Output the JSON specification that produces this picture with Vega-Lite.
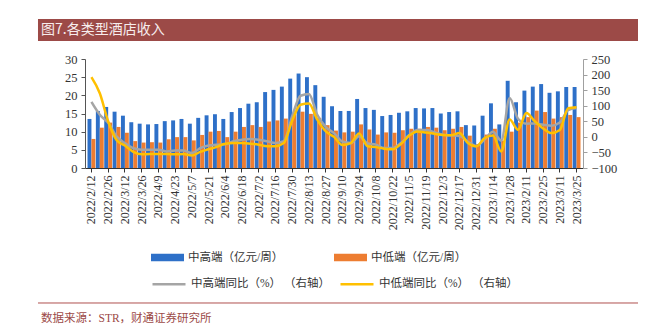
{
  "$schema": "https://vega.github.io/schema/vega-lite/v6.json",
  "padding": {"left": 37, "top": 19, "right": 0, "bottom": 0},
  "background": "white",
  "config": {
    "view": {"stroke": null},
    "font": "Liberation Serif, Noto Sans CJK SC",
    "concat": {"spacing": 12},
    "axis": {"grid": false, "title": null}
  },
  "datasets": {
    "weekly": [
      {"week": "2022/2/12", "hi": 13.5, "lo": 8.0, "hiYoY": 112, "loYoY": 192},
      {"week": "2022/2/19", "hi": 15.7, "lo": 11.1, "hiYoY": 71, "loYoY": 140},
      {"week": "2022/2/26", "hi": 16.8, "lo": 12.5, "hiYoY": 45, "loYoY": 50},
      {"week": "2022/3/5", "hi": 15.5, "lo": 11.3, "hiYoY": 2, "loYoY": -10},
      {"week": "2022/3/12", "hi": 14.4, "lo": 9.7, "hiYoY": -20, "loYoY": -28},
      {"week": "2022/3/19", "hi": 12.6, "lo": 7.4, "hiYoY": -36, "loYoY": -48},
      {"week": "2022/3/26", "hi": 12.2, "lo": 7.0, "hiYoY": -41, "loYoY": -56},
      {"week": "2022/4/2", "hi": 12.0, "lo": 7.1, "hiYoY": -41, "loYoY": -55},
      {"week": "2022/4/9", "hi": 12.1, "lo": 7.0, "hiYoY": -41, "loYoY": -55},
      {"week": "2022/4/16", "hi": 12.9, "lo": 7.9, "hiYoY": -47, "loYoY": -55},
      {"week": "2022/4/23", "hi": 13.1, "lo": 8.5, "hiYoY": -44, "loYoY": -56},
      {"week": "2022/4/30", "hi": 13.5, "lo": 8.5, "hiYoY": -44, "loYoY": -55},
      {"week": "2022/5/7", "hi": 12.2, "lo": 7.6, "hiYoY": -52, "loYoY": -60},
      {"week": "2022/5/14", "hi": 13.8, "lo": 9.1, "hiYoY": -36, "loYoY": -48},
      {"week": "2022/5/21", "hi": 14.5, "lo": 10.0, "hiYoY": -28, "loYoY": -40},
      {"week": "2022/5/28", "hi": 14.8, "lo": 10.2, "hiYoY": -25, "loYoY": -32},
      {"week": "2022/6/4", "hi": 13.5, "lo": 8.5, "hiYoY": -24, "loYoY": -22},
      {"week": "2022/6/11", "hi": 15.4, "lo": 10.0, "hiYoY": -14, "loYoY": -20},
      {"week": "2022/6/18", "hi": 16.5, "lo": 11.3, "hiYoY": -9, "loYoY": -20},
      {"week": "2022/6/25", "hi": 17.7, "lo": 11.8, "hiYoY": -7, "loYoY": -22},
      {"week": "2022/7/2", "hi": 18.1, "lo": 11.3, "hiYoY": -9, "loYoY": -25},
      {"week": "2022/7/9", "hi": 20.9, "lo": 12.8, "hiYoY": -14, "loYoY": -30},
      {"week": "2022/7/16", "hi": 21.5, "lo": 13.1, "hiYoY": -20, "loYoY": -30},
      {"week": "2022/7/23", "hi": 22.4, "lo": 13.6, "hiYoY": -14, "loYoY": -20},
      {"week": "2022/7/30", "hi": 24.6, "lo": 14.6, "hiYoY": 66, "loYoY": 52},
      {"week": "2022/8/6", "hi": 26.0, "lo": 15.5, "hiYoY": 132, "loYoY": 103},
      {"week": "2022/8/13", "hi": 25.0, "lo": 14.9, "hiYoY": 138, "loYoY": 107},
      {"week": "2022/8/20", "hi": 22.8, "lo": 13.8, "hiYoY": 71, "loYoY": 55},
      {"week": "2022/8/27", "hi": 19.6, "lo": 11.8, "hiYoY": 32, "loYoY": 18},
      {"week": "2022/9/3", "hi": 17.0, "lo": 10.3, "hiYoY": 12, "loYoY": 0},
      {"week": "2022/9/10", "hi": 15.7, "lo": 9.8, "hiYoY": -15, "loYoY": -26},
      {"week": "2022/9/17", "hi": 15.7, "lo": 10.0, "hiYoY": -20, "loYoY": -20},
      {"week": "2022/9/24", "hi": 19.0, "lo": 12.0, "hiYoY": 2, "loYoY": 11},
      {"week": "2022/10/1", "hi": 16.5, "lo": 10.6, "hiYoY": -21, "loYoY": -30},
      {"week": "2022/10/8", "hi": 16.0, "lo": 9.2, "hiYoY": -25, "loYoY": -33},
      {"week": "2022/10/15", "hi": 14.3, "lo": 9.8, "hiYoY": -36, "loYoY": -38},
      {"week": "2022/10/22", "hi": 14.6, "lo": 9.7, "hiYoY": -36, "loYoY": -40},
      {"week": "2022/10/29", "hi": 15.2, "lo": 10.4, "hiYoY": -20, "loYoY": -23},
      {"week": "2022/11/5", "hi": 15.6, "lo": 10.8, "hiYoY": 6, "loYoY": 4},
      {"week": "2022/11/12", "hi": 16.5, "lo": 10.8, "hiYoY": 22, "loYoY": 17},
      {"week": "2022/11/19", "hi": 16.4, "lo": 11.3, "hiYoY": 22, "loYoY": 14},
      {"week": "2022/11/26", "hi": 16.5, "lo": 11.1, "hiYoY": 15, "loYoY": 10},
      {"week": "2022/12/3", "hi": 15.0, "lo": 10.4, "hiYoY": 7, "loYoY": 6},
      {"week": "2022/12/10", "hi": 15.4, "lo": 10.8, "hiYoY": 5, "loYoY": 5},
      {"week": "2022/12/17", "hi": 15.6, "lo": 11.3, "hiYoY": 3, "loYoY": 12},
      {"week": "2022/12/24", "hi": 11.8, "lo": 8.9, "hiYoY": -15, "loYoY": -20},
      {"week": "2022/12/31", "hi": 11.7, "lo": 6.6, "hiYoY": -29, "loYoY": -31},
      {"week": "2023/1/7", "hi": 14.4, "lo": 9.2, "hiYoY": -9, "loYoY": -4},
      {"week": "2023/1/14", "hi": 17.8, "lo": 10.8, "hiYoY": 16, "loYoY": 4},
      {"week": "2023/1/21", "hi": 12.0, "lo": 7.5, "hiYoY": -12, "loYoY": -47},
      {"week": "2023/1/28", "hi": 24.0, "lo": 10.0, "hiYoY": 125, "loYoY": 56},
      {"week": "2023/2/4", "hi": 18.1, "lo": 12.5, "hiYoY": 58, "loYoY": 23},
      {"week": "2023/2/11", "hi": 21.3, "lo": 14.0, "hiYoY": 42, "loYoY": 77},
      {"week": "2023/2/18", "hi": 22.4, "lo": 15.8, "hiYoY": 43, "loYoY": 50},
      {"week": "2023/2/25", "hi": 23.1, "lo": 15.4, "hiYoY": 39, "loYoY": 27},
      {"week": "2023/3/4", "hi": 20.7, "lo": 13.6, "hiYoY": 36, "loYoY": 12},
      {"week": "2023/3/11", "hi": 21.1, "lo": 14.0, "hiYoY": 46, "loYoY": 22},
      {"week": "2023/3/18", "hi": 22.3, "lo": 14.6, "hiYoY": 86, "loYoY": 92},
      {"week": "2023/3/25", "hi": 22.3, "lo": 14.0, "hiYoY": 93, "loYoY": 95}
    ]
  },
  "vconcat": [
    {
      "width": 553,
      "height": 22,
      "data": {"values": [{"label": "图7.各类型酒店收入", "x0": -0.085, "x1": 1, "y0": 0, "y1": 1, "py": 0.5}]},
      "layer": [
        {
          "mark": {"type": "rect", "color": "#9C4A47"},
          "encoding": {
            "x": {"field": "x0", "type": "quantitative", "scale": {"domain": [0, 1]}, "axis": null},
            "x2": {"field": "x1"},
            "y": {"field": "y0", "type": "quantitative", "scale": {"domain": [0, 1]}, "axis": null},
            "y2": {"field": "y1"}
          }
        },
        {
          "mark": {"type": "text", "align": "left", "baseline": "middle", "fontSize": 14, "color": "#F7EDED", "dx": 3, "font": "Noto Sans CJK SC"},
          "encoding": {
            "x": {"field": "x0", "type": "quantitative"},
            "y": {"field": "py", "type": "quantitative"},
            "text": {"field": "label"}
          }
        }
      ]
    },
    {
      "width": 498,
      "height": 109,
      "data": {"name": "weekly"},
      "layer": [
        {
          "transform": [{"fold": ["hi", "lo"], "as": ["series", "value"]}],
          "mark": {"type": "bar"},
          "encoding": {
            "x": {
              "field": "week", "type": "nominal", "sort": null,
              "scale": {"paddingInner": 0.06, "paddingOuter": 0.3},
              "axis": {
                "values": ["2022/2/12","2022/2/26","2022/3/12","2022/3/26","2022/4/9","2022/4/23","2022/5/7","2022/5/21","2022/6/4","2022/6/18","2022/7/2","2022/7/16","2022/7/30","2022/8/13","2022/8/27","2022/9/10","2022/9/24","2022/10/8","2022/10/22","2022/11/5","2022/11/19","2022/12/3","2022/12/17","2022/12/31","2023/1/14","2023/1/28","2023/2/11","2023/2/25","2023/3/11","2023/3/25"],
                "labelAngle": -90, "labelFontSize": 12, "labelColor": "#333333",
                "domainColor": "#333333", "tickColor": "#333333", "tickSize": 4, "labelPadding": 3
              }
            },
            "xOffset": {"field": "series", "sort": ["hi", "lo"], "scale": {"paddingInner": 0}},
            "y": {
              "field": "value", "type": "quantitative",
              "scale": {"domain": [0, 30]},
              "axis": {
                "orient": "left", "values": [0, 5, 10, 15, 20, 25, 30],
                "labelFontSize": 12.5, "labelColor": "#333333",
                "domainColor": "#555555", "tickColor": "#555555", "tickSize": 4,
                "labelPadding": 4, "minExtent": 47
              }
            },
            "color": {
              "field": "series", "type": "nominal",
              "scale": {"domain": ["hi", "lo"], "range": ["#2E70C8", "#ED7D31"]},
              "legend": {
                "orient": "none", "legendX": 66, "legendY": 222,
                "direction": "horizontal", "columns": 2, "title": null,
                "symbolType": "M-1,-0.22H1V0.22H-1Z", "symbolSize": 1089, "symbolStrokeWidth": 0,
                "labelFontSize": 11.5, "labelColor": "#333333", "labelOffset": 4,
                "columnPadding": 50,
                "labelExpr": "datum.label == 'hi' ? '中高端（亿元/周）' : '中低端（亿元/周）'"
              }
            }
          }
        },
        {
          "transform": [{"fold": ["hiYoY", "loYoY"], "as": ["series", "value"]}],
          "mark": {"type": "line", "interpolate": "monotone", "strokeWidth": 2.5},
          "encoding": {
            "x": {"field": "week", "type": "nominal", "sort": null},
            "y": {
              "field": "value", "type": "quantitative",
              "scale": {"domain": [-100, 250]},
              "axis": {
                "orient": "right", "values": [-100, -50, 0, 50, 100, 150, 200, 250],
                "labelFontSize": 12.5, "labelColor": "#333333",
                "domainColor": "#A0A0A0", "tickColor": "#A0A0A0", "tickSize": 4,
                "labelPadding": 4
              }
            },
            "stroke": {
              "field": "series", "type": "nominal",
              "scale": {"domain": ["hiYoY", "loYoY"], "range": ["#A5A5A5", "#FFC000"]},
              "legend": {
                "orient": "none", "legendX": 66, "legendY": 247,
                "direction": "horizontal", "columns": 2, "title": null,
                "symbolType": "stroke", "symbolSize": 1089, "symbolStrokeWidth": 2.5,
                "labelFontSize": 11.5, "labelColor": "#333333", "labelOffset": 4,
                "columnPadding": 5,
                "labelExpr": "datum.label == 'hiYoY' ? '中高端同比（%） （右轴）' : '中低端同比（%） （右轴）'"
              }
            }
          }
        }
      ],
      "resolve": {"scale": {"y": "independent"}}
    },
    {
      "width": 553,
      "height": 85,
      "data": {"values": [{"x0": -0.085, "x1": 1, "ly": 0.2824, "ty": 0.094, "label": "数据来源：STR，财通证券研究所"}]},
      "layer": [
        {
          "mark": {"type": "rule", "color": "#B0504E", "strokeWidth": 1},
          "encoding": {
            "x": {"field": "x0", "type": "quantitative", "scale": {"domain": [0, 1]}, "axis": null},
            "x2": {"field": "x1"},
            "y": {"field": "ly", "type": "quantitative", "scale": {"domain": [0, 1]}, "axis": null}
          }
        },
        {
          "mark": {"type": "text", "align": "left", "baseline": "middle", "fontSize": 11.5, "color": "#9C4A47", "dx": 3},
          "encoding": {
            "x": {"field": "x0", "type": "quantitative"},
            "y": {"field": "ty", "type": "quantitative"},
            "text": {"field": "label"}
          }
        }
      ]
    }
  ]
}
